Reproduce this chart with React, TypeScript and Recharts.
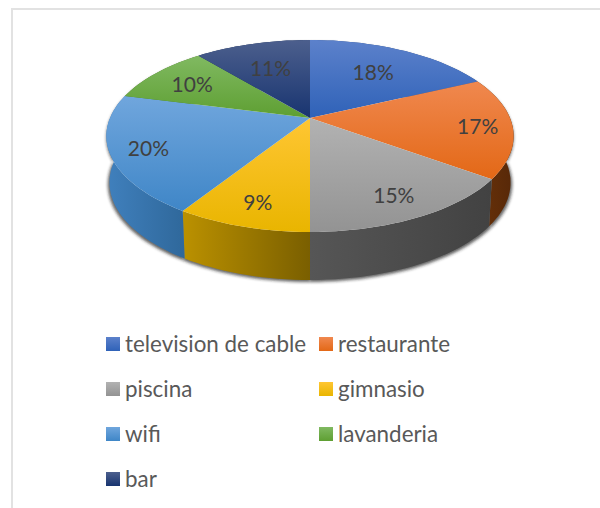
import { PieChart, Pie, Legend } from "recharts";

const CATEGORIES = ["television de cable", "restaurante", "piscina", "gimnasio", "wifi", "lavanderia", "bar"];
const SHARES = [18, 17, 15, 9, 20, 10, 11];

// colours per slice: top face (light, dark) and side wall (left, right)
const FACE_LIGHT = ["#5c81cb", "#f0884f", "#b2b2b2", "#ffc633", "#70a6dd", "#80b961", "#4c5f8d"];
const FACE_DARK = ["#2f62b8", "#e36816", "#939393", "#e9b500", "#3f86c7", "#5e9f32", "#183470"];
const WALL_LEFT = ["#2a4f92", "#6a3209", "#565656", "#bb9100", "#4080bd", "#4a7a28", "#152a58"];
const WALL_RIGHT = ["#2a4f92", "#572808", "#424242", "#7a5f00", "#2f689b", "#4a7a28", "#152a58"];
const LABEL_RADIUS = [0.65, 0.83, 0.8, 0.8, 0.82, 0.75, 0.65];

const data = CATEGORIES.map((name, i) => ({ name, value: SHARES[i] }));

// tilt of the pie: k is the perspective, SQUASH the vertical flattening
const k = 0.1875;
const SQUASH = 0.463;
const FONT = "Lato, 'Open Sans', sans-serif";

function project(cx: number, cy: number, r: number, deg: number, f = 1) {
  const a = (deg * Math.PI) / 180;
  const u = Math.cos(a) * f;
  const v = Math.sin(a) * f;
  const d = 1 + k * v;
  return { x: cx + (r * u) / d, y: cy - (r * SQUASH * v) / d, v };
}

function arcPoints(cx: number, cy: number, r: number, from: number, to: number) {
  const n = Math.max(2, Math.ceil(Math.abs(to - from) / 2));
  const pts = [];
  for (let i = 0; i <= n; i++) pts.push(project(cx, cy, r, from + ((to - from) * i) / n));
  return pts;
}

function wallPath(p: any, scale: number) {
  const { cx, cy, outerRadius, startAngle, endAngle } = p;
  const rim = arcPoints(cx, cy, outerRadius, startAngle, endAngle);
  const lower = rim
    .slice()
    .reverse()
    .map((q) => ({ x: cx + (q.x - cx) * scale, y: q.y + 46 - 2 * q.v }));
  return [...rim, ...lower].map((q, i) => `${i ? "L" : "M"}${q.x.toFixed(1)} ${q.y.toFixed(1)}`).join(" ") + " Z";
}

function TopShape(p: any) {
  const { cx, cy, outerRadius, startAngle, endAngle, index } = p;
  const rim = arcPoints(cx, cy, outerRadius, startAngle, endAngle);
  const d = `M${cx} ${cy} ` + rim.map((q) => `L${q.x.toFixed(1)} ${q.y.toFixed(1)}`).join(" ") + " Z";
  return <path d={d} fill={`url(#face${index})`} />;
}

function WallShape(p: any) {
  return <path d={wallPath(p, 0.985)} fill={`url(#wall${p.index})`} />;
}

function ShadowShape(p: any) {
  return <path d={wallPath(p, 0.993)} fill="#222" fillOpacity={0.7} filter="url(#blur)" transform="translate(0 2)" />;
}

function renderLabel(p: any) {
  const { cx, cy, outerRadius, midAngle, value, index } = p;
  const pos = project(cx, cy, outerRadius, midAngle, LABEL_RADIUS[index]);
  return (
    <text
      x={pos.x}
      y={pos.y}
      fill="#404040"
      fontSize={21}
      fontFamily={FONT}
      textAnchor="middle"
      dominantBaseline="central"
    >
      {value}%
    </text>
  );
}

function renderLegend() {
  return (
    <div
      style={{
        position: "absolute",
        left: 106,
        top: 321,
        display: "grid",
        gridTemplateColumns: "213px 213px",
        gridAutoRows: "45px",
        fontFamily: FONT,
        fontSize: 22.4,
        color: "#595959",
      }}
    >
      {CATEGORIES.map((name, i) => (
        <div key={name} style={{ display: "flex", alignItems: "center", whiteSpace: "nowrap" }}>
          <span
            style={{
              width: 14,
              height: 14,
              marginRight: 5,
              background: `linear-gradient(${FACE_LIGHT[i]}, ${FACE_DARK[i]})`,
            }}
          />
          {name}
        </div>
      ))}
    </div>
  );
}

export default function App() {
  const pieProps = {
    data,
    dataKey: "value",
    nameKey: "name",
    cx: 310,
    cy: 118,
    outerRadius: 200,
    startAngle: 90,
    endAngle: -270,
    stroke: "none",
    isAnimationActive: false,
  };
  return (
    <div style={{ position: "absolute", left: 0, top: 0, width: 600, height: 508, background: "#fff", overflow: "hidden" }}>
      <div style={{ position: "absolute", left: 11, top: 8, right: 0, height: 2, background: "#e2e2e2" }} />
      <div style={{ position: "absolute", left: 11, top: 8, bottom: 0, width: 2, background: "#e2e2e2" }} />
      <div style={{ position: "absolute", left: 0, top: 0 }}>
        <PieChart width={600} height={508} margin={{ top: 0, right: 0, bottom: 0, left: 0 }}>
          <defs>
            <filter id="blur" x="-10%" y="-10%" width="120%" height="120%">
              <feGaussianBlur stdDeviation="1.5" />
            </filter>
            {CATEGORIES.map((c, i) => (
              <linearGradient key={c} id={`face${i}`} x1="0" y1="0" x2="0" y2="1">
                <stop offset="0%" stopColor={FACE_LIGHT[i]} />
                <stop offset="100%" stopColor={FACE_DARK[i]} />
              </linearGradient>
            ))}
            {CATEGORIES.map((c, i) => (
              <linearGradient key={c} id={`wall${i}`} x1="0" y1="0" x2="1" y2="0">
                <stop offset="0%" stopColor={WALL_LEFT[i]} />
                <stop offset="100%" stopColor={WALL_RIGHT[i]} />
              </linearGradient>
            ))}
          </defs>
          <Pie {...pieProps} legendType="none" shape={ShadowShape} />
          <Pie {...pieProps} legendType="none" shape={WallShape} />
          <Pie {...pieProps} shape={TopShape} label={renderLabel} labelLine={false} />
          <Legend content={renderLegend} wrapperStyle={{ position: "absolute", left: 0, top: 0, width: 600, height: 0 }} />
        </PieChart>
      </div>
    </div>
  );
}
